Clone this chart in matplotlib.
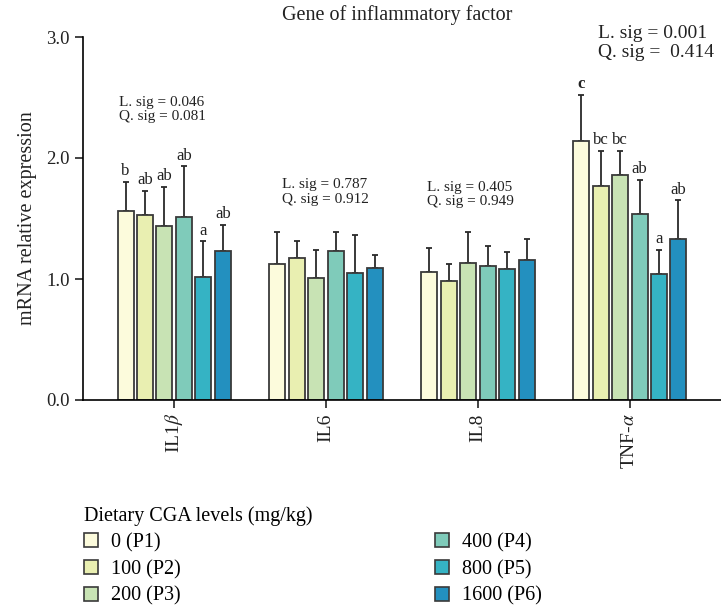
import numpy as np
import matplotlib.pyplot as plt
from matplotlib.patches import Patch

plt.rcParams['font.family'] = ['Liberation Serif', 'DejaVu Serif']
plt.rcParams['mathtext.fontset'] = 'stix'

genes = ['IL1$\\beta$', 'IL6', 'IL8', 'TNF-$\\alpha$']
levels = ['0 (P1)', '100 (P2)', '200 (P3)', '400 (P4)', '800 (P5)', '1600 (P6)']
colors = ['#fcfbdc', '#e9efb1', '#c8e3b4', '#7fcbba', '#35b3c4', '#2390bf']

# mean expression per level, one value per gene
p1 = [1.56, 1.12, 1.06, 2.14]
p2 = [1.53, 1.17, 0.98, 1.77]
p3 = [1.44, 1.01, 1.13, 1.86]
p4 = [1.51, 1.23, 1.11, 1.54]
p5 = [1.02, 1.05, 1.08, 1.04]
p6 = [1.23, 1.09, 1.16, 1.33]
means = [p1, p2, p3, p4, p5, p6]

# standard deviations (upper bars only)
sd1 = [0.24, 0.27, 0.20, 0.38]
sd2 = [0.20, 0.14, 0.14, 0.29]
sd3 = [0.32, 0.23, 0.26, 0.20]
sd4 = [0.42, 0.16, 0.16, 0.28]
sd5 = [0.29, 0.31, 0.14, 0.20]
sd6 = [0.22, 0.11, 0.17, 0.32]
sds = [sd1, sd2, sd3, sd4, sd5, sd6]

# significance letters
let1 = ['b', '', '', 'c']
let2 = ['ab', '', '', 'bc']
let3 = ['ab', '', '', 'bc']
let4 = ['ab', '', '', 'ab']
let5 = ['a', '', '', 'a']
let6 = ['ab', '', '', 'ab']
letters = [let1, let2, let3, let4, let5, let6]

lin_sig = ['0.046', '0.787', '0.405', '0.001']
quad_sig = ['0.081', '0.912', '0.949', ' 0.414']

fig = plt.figure(figsize=(7.21, 6.11), dpi=100)
ax = fig.add_axes([83 / 721, 211 / 611, 638 / 721, 363 / 611])

x = np.arange(len(genes))
step = 0.128
width = 0.105
for i in range(6):
    xi = x + (i - 2.5) * step
    ax.bar(xi, means[i], width, color=colors[i], edgecolor='#3a3a3a',
           linewidth=1.3, zorder=2)
    ax.errorbar(xi, means[i], yerr=[np.zeros(4), sds[i]], fmt='none',
                ecolor='#2a2a2a', elinewidth=1.3, capsize=2.5, capthick=1.3,
                zorder=1)
    for j in range(4):
        if letters[i][j]:
            ax.annotate(letters[i][j], (xi[j], means[i][j] + sds[i][j]),
                        xytext=(0, 2), textcoords='offset points',
                        ha='center', va='bottom', fontsize=12,
                        color='#222222',
                        fontweight='bold' if letters[i][j] == 'c' else 'normal')

# linear / quadratic contrast p-values
sig_pos = [(-0.363, 2.40), (0.709, 1.72), (1.663, 1.70), (2.788, 2.95)]
sig_size = [11, 11, 11, 14]
for j in range(4):
    ax.text(sig_pos[j][0], sig_pos[j][1],
            'L. sig = ' + lin_sig[j] + '\nQ. sig = ' + quad_sig[j],
            ha='left', va='center', fontsize=sig_size[j], color='#222222',
            linespacing=1.15, clip_on=False)

ax.set_xlim(-0.6, 3.6)
ax.set_ylim(0, 3.0)
ax.set_yticks([0, 1.0, 2.0, 3.0])
ax.set_yticklabels(['0.0', '1.0', '2.0', '3.0'], fontsize=13.5)
ax.set_xticks(x)
ax.set_xticklabels(genes, rotation=90, fontsize=14)
ax.tick_params(direction='out', length=6, width=1.2, colors='#222222')
ax.spines['top'].set_visible(False)
ax.spines['right'].set_visible(False)
ax.spines['left'].set_linewidth(1.2)
ax.spines['bottom'].set_linewidth(1.2)
ax.set_ylabel('mRNA relative expression', fontsize=14.5, color='#222222',
              labelpad=7)
fig.text(397 / 721, 1 - 15 / 611, 'Gene of inflammatory factor',
         ha='center', va='center', fontsize=14.5, color='#222222')

handles = [Patch(facecolor=colors[i], edgecolor='#3a3a3a', linewidth=1.2,
                 label=levels[i]) for i in range(6)]
leg = fig.legend(handles=handles, loc='upper left',
                 bbox_to_anchor=(76 / 721, 1 - 498 / 611), ncol=2,
                 frameon=False, fontsize=14.5, title='Dietary CGA levels (mg/kg)',
                 title_fontsize=14.5, alignment='left', handlelength=0.7,
                 handleheight=0.7, handletextpad=0.65, labelspacing=0.37,
                 columnspacing=12.6, borderaxespad=0)

fig.savefig('out.png', dpi=100)
